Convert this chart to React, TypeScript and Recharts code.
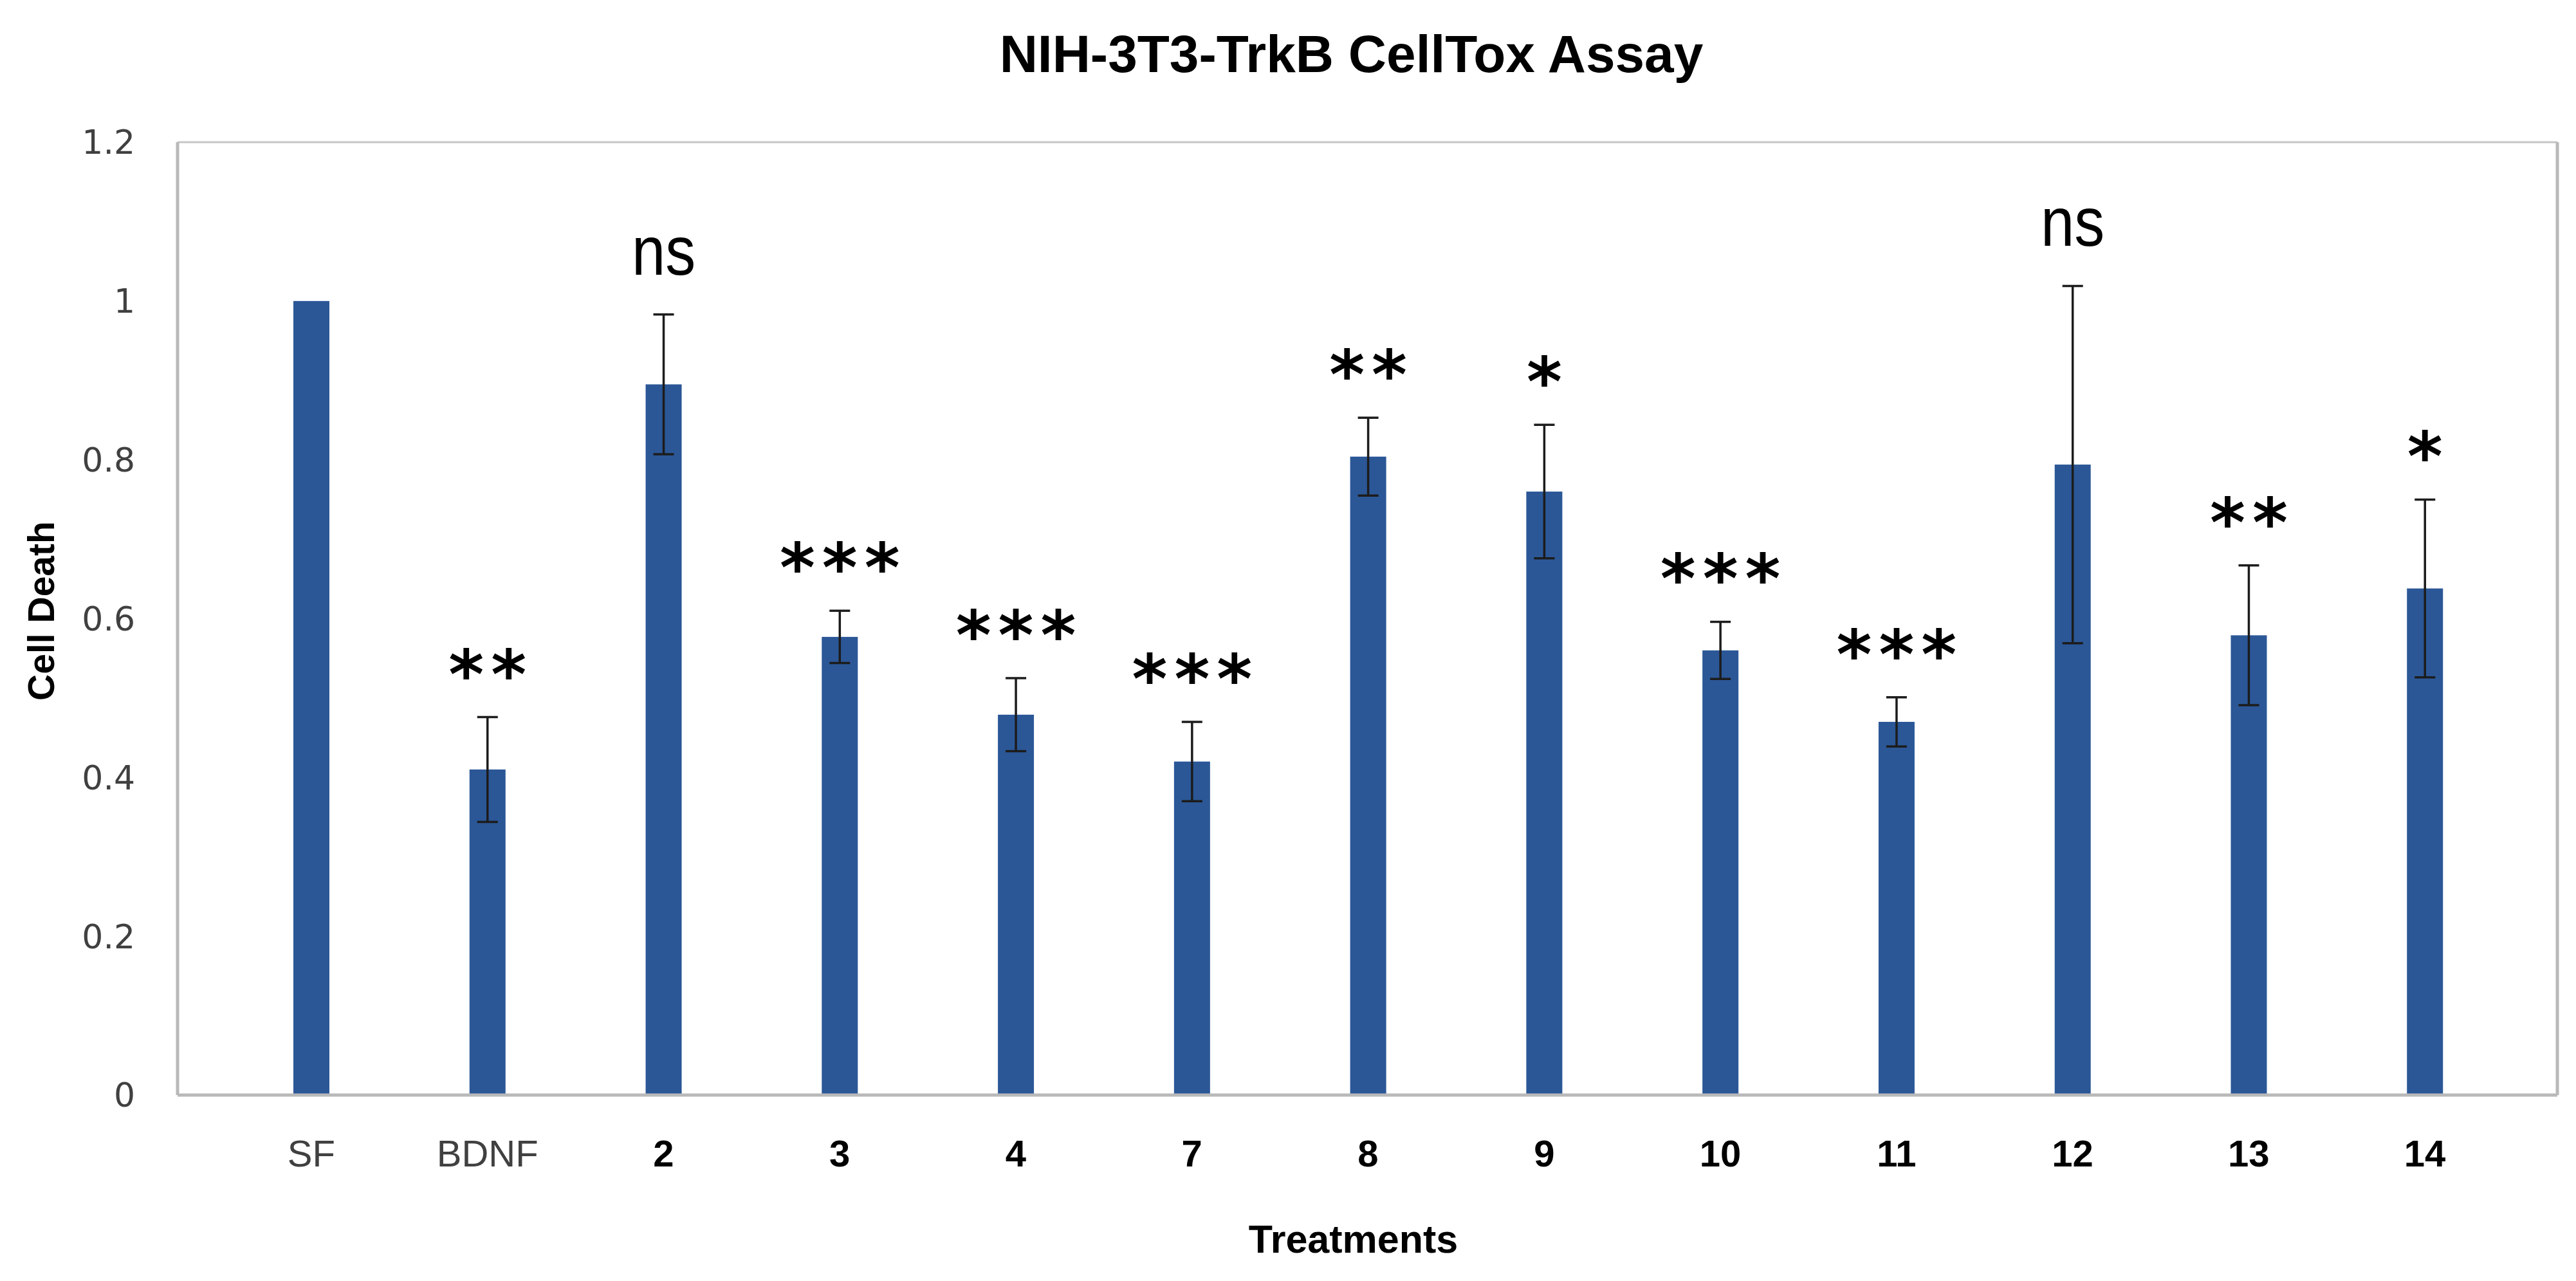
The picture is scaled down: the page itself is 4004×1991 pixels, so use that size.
import React from 'react';
import { BarChart, Bar, XAxis, YAxis, ErrorBar } from 'recharts';

// ---- Data ----
const categories = ['SF', 'BDNF', '2', '3', '4', '7', '8', '9', '10', '11', '12', '13', '14'];
const cellDeath = [1.0, 0.41, 0.895, 0.577, 0.479, 0.42, 0.804, 0.76, 0.56, 0.47, 0.794, 0.579, 0.638];
const errors: (number | null)[] = [null, 0.066, 0.088, 0.033, 0.046, 0.05, 0.049, 0.084, 0.036, 0.031, 0.225, 0.088, 0.112];
const significance = ['', '**', 'ns', '***', '***', '***', '**', '*', '***', '***', 'ns', '**', '*'];
const yTicks = [0, 0.2, 0.4, 0.6, 0.8, 1, 1.2];
const controlCategories = ['SF', 'BDNF'];

const title = 'NIH-3T3-TrkB CellTox Assay';
const yLabel = 'Cell Death';
const xLabel = 'Treatments';

const data = categories.map((name, i) => ({
  name,
  value: cellDeath[i],
  err: errors[i],
  sig: significance[i],
}));

const BAR_COLOR = '#2B5797';
const FRAME = '#b9b9b9';

const BarWithSig = (props: any) => {
  const { x, y, width, height, index } = props;
  const entry = props.payload ?? data[index];
  const mean = entry.value;
  const err = entry.err ?? 0;
  const pxPerUnit = mean > 0 ? height / mean : 0;
  const errTop = y - err * pxPerUnit;
  const cx = x + width / 2;
  const target = errTop - 90;
  let label: React.ReactNode = null;
  if (entry.sig === 'ns') {
    label = (
      <text
        transform={`translate(${cx},${target + 28}) scale(1,1.15)`}
        textAnchor="middle"
        fontFamily="Liberation Sans"
        fontSize={94}
        fill="#000"
      >
        {entry.sig}
      </text>
    );
  } else if (entry.sig) {
    label = (
      <text
        x={cx + 5.5}
        y={target + 60}
        textAnchor="middle"
        fontFamily="DejaVu Sans"
        fontWeight="bold"
        fontSize={105}
        letterSpacing={11}
        fill="#000"
      >
        {entry.sig}
      </text>
    );
  }
  return (
    <g>
      <rect x={x} y={y} width={width} height={height} fill={BAR_COLOR} />
      {label}
    </g>
  );
};

const XTick = (props: any) => {
  const { x, y, payload } = props;
  const control = controlCategories.includes(payload.value);
  return (
    <text
      x={x}
      y={y + 111}
      textAnchor="middle"
      fontFamily="Liberation Sans"
      fontSize={58}
      fontWeight={control ? 'normal' : 'bold'}
      fill={control ? '#404040' : '#000'}
    >
      {payload.value}
    </text>
  );
};

const TitleLabel = (props: any) => {
  const vb = props.viewBox || { x: 268, width: 3699 };
  return (
    <text
      x={vb.x + vb.width / 2 - 25}
      y={104}
      textAnchor="middle"
      fontFamily="Liberation Sans"
      fontWeight="bold"
      fontSize={82}
      fill="#000"
    >
      {title}
    </text>
  );
};

const YTitle = (props: any) => {
  const vb = props.viewBox || { x: 68, y: 213, height: 1481 };
  const cy = vb.y + vb.height / 2 - 12;
  return (
    <text
      transform={`translate(${vb.x + 8},${cy}) rotate(-90)`}
      textAnchor="middle"
      fontFamily="Liberation Sans"
      fontWeight="bold"
      fontSize={57}
      fill="#000"
    >
      {yLabel}
    </text>
  );
};

const XTitle = (props: any) => {
  const vb = props.viewBox || { x: 268, y: 1694, width: 3699 };
  return (
    <text
      x={vb.x + vb.width / 2 - 22}
      y={vb.y + 245}
      textAnchor="middle"
      fontFamily="Liberation Sans"
      fontWeight="bold"
      fontSize={61}
      fill="#000"
    >
      {xLabel}
    </text>
  );
};

export default function App() {
  return (
    <div style={{ width: 3988, height: 1975, background: '#fff' }}>
      <BarChart
        width={3988}
        height={1975}
        data={data}
        margin={{ top: 212, right: 20, bottom: 21, left: 68 }}
      >
        <XAxis
          dataKey="name"
          type="category"
          height={260}
          padding={{ left: 71, right: 69 }}
          axisLine={{ stroke: FRAME, strokeWidth: 5 }}
          tickLine={false}
          tickSize={0}
          tickMargin={0}
          interval={0}
          tick={<XTick />}
          label={(p: any) => <XTitle {...p} />}
        />
        <XAxis
          xAxisId="top"
          dataKey="name"
          orientation="top"
          height={1}
          axisLine={{ stroke: '#c6c6c6', strokeWidth: 3 }}
          tickLine={false}
          tick={false}
          label={(p: any) => <TitleLabel {...p} />}
        />
        <YAxis
          domain={[0, 1.2]}
          ticks={yTicks}
          interval={0}
          width={200}
          axisLine={{ stroke: FRAME, strokeWidth: 5 }}
          tickLine={false}
          tickSize={0}
          tickMargin={66}
          tick={{ fontFamily: 'DejaVu Sans', fontSize: 52, fill: '#404040' }}
          label={(p: any) => <YTitle {...p} />}
        />
        <YAxis
          yAxisId="right"
          orientation="right"
          domain={[0, 1.2]}
          width={1}
          axisLine={{ stroke: FRAME, strokeWidth: 5 }}
          tickLine={false}
          tick={false}
        />
        <Bar dataKey="value" barSize={56} fill={BAR_COLOR} isAnimationActive={false} shape={(p: any) => <BarWithSig {...p} />}>
          <ErrorBar dataKey="err" direction="y" width={16} strokeWidth={3.5} stroke="#1c1c1c" />
        </Bar>
      </BarChart>
    </div>
  );
}
